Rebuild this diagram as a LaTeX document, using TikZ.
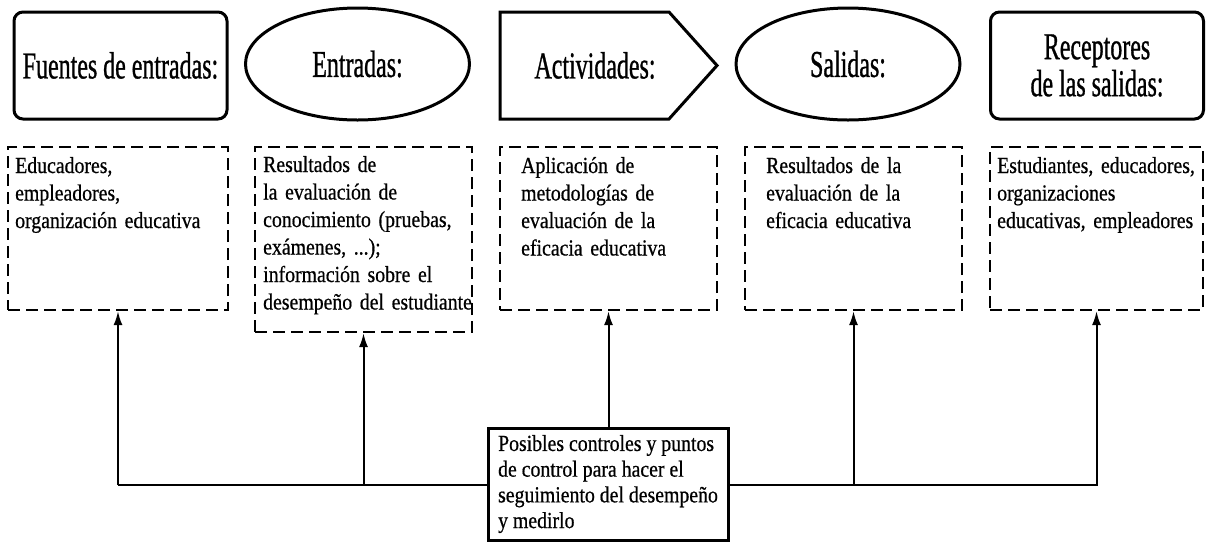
\documentclass[tikz,border=0pt]{standalone}
\usepackage{fontspec}
\setmainfont{Liberation Serif}[FakeStretch=0.86,FakeBold=0.6]
\newfontfamily\titlefont{Liberation Serif}[FakeStretch=0.63,FakeBold=0.8]
\usetikzlibrary{shapes.geometric,arrows.meta}
\begin{document}
\begin{tikzpicture}[x=1pt,y=-1pt,
  titlefnt/.style={font=\titlefont\fontsize{38}{37}\selectfont},
  topbox/.style={draw,line width=3pt,rounded corners=9pt,minimum width=213pt,minimum height=107pt,inner sep=0pt,align=center,titlefnt},
  topell/.style={draw,ellipse,line width=3pt,minimum width=224pt,minimum height=112pt,inner sep=0pt,titlefnt},
  dbox/.style={draw,line width=2.2pt,dash pattern=on 12pt off 6pt,inner sep=0pt},
  dtext/.style={anchor=base west,inner sep=0pt,text width=220pt,align=left,font=\fontsize{23}{27.5}\selectfont},
  arr/.style={line width=2pt,-{Latex[length=14pt,width=9pt]}},
  ctlbox/.style={draw,line width=3pt,fill=white,minimum width=240pt,minimum height=112pt,inner sep=0pt,align=left,font=\fontsize{23}{25.7}\selectfont}
]
\useasboundingbox (0,0) rectangle (1206,542);

% top row
\node[topbox] (fuentes) at (120.5,65.5) {Fuentes de entradas:};
\node[topell] (entradas) at (357.5,64) {Entradas:};
\draw[line width=3pt,line join=miter] (500,12) -- (669,12) -- (717,65.5) -- (669,119) -- (500,119) -- cycle;
\node[titlefnt,inner sep=0pt] (act) at (595,65.5) {Actividades:};
\node[topell] (salidas) at (848,64) {Salidas:};
\node[topbox] (receptores) at (1097,65.5) {Receptores\\de las salidas:};

% dashed boxes
\node[dbox,minimum width=220pt,minimum height=163pt] (d1) at (118,228.5) {};
\node[dbox,minimum width=217pt,minimum height=185pt] (d2) at (363.5,239.5) {};
\node[dbox,minimum width=217pt,minimum height=163pt] (d3) at (608.5,228.5) {};
\node[dbox,minimum width=217pt,minimum height=163pt] (d4) at (853.5,228.5) {};
\node[dbox,minimum width=213pt,minimum height=163pt] (d5) at (1096.5,228.5) {};

\node[dtext] (t1) at (15,173) {Educadores,\\empleadores,\\organización educativa};
\node[dtext] (t2) at (263,172) {Resultados de\\la evaluación de\\conocimiento (pruebas,\\exámenes, ...);\\información sobre el\\desempeño del estudiante};
\node[dtext] (t3) at (521,173) {Aplicación de\\metodologías de\\evaluación de la\\eficacia educativa};
\node[dtext] (t4) at (766,173) {Resultados de la\\evaluación de la\\eficacia educativa};
\node[dtext] (t5) at (997,173) {Estudiantes, educadores,\\organizaciones\\educativas, empleadores};

% connectors
\coordinate (hL) at (118,485);
\coordinate (hR) at (1098,485);
\draw[line width=1.5pt] (hL) -- (hR);
\node[ctlbox] (ctl) at (608,484) {Posibles controles y puntos\\de control para hacer el\\seguimiento del desempeño\\y medirlo};
\draw[arr] (d1.south |- hL) -- (d1.south);
\draw[arr] (d2.south |- hL) -- (d2.south);
\draw[arr] (d3.south |- ctl.north) -- (d3.south);
\draw[arr] (d4.south |- hL) -- (d4.south);
\draw[arr] (d5.south |- hL) -- (d5.south);
\end{tikzpicture}
\end{document}
